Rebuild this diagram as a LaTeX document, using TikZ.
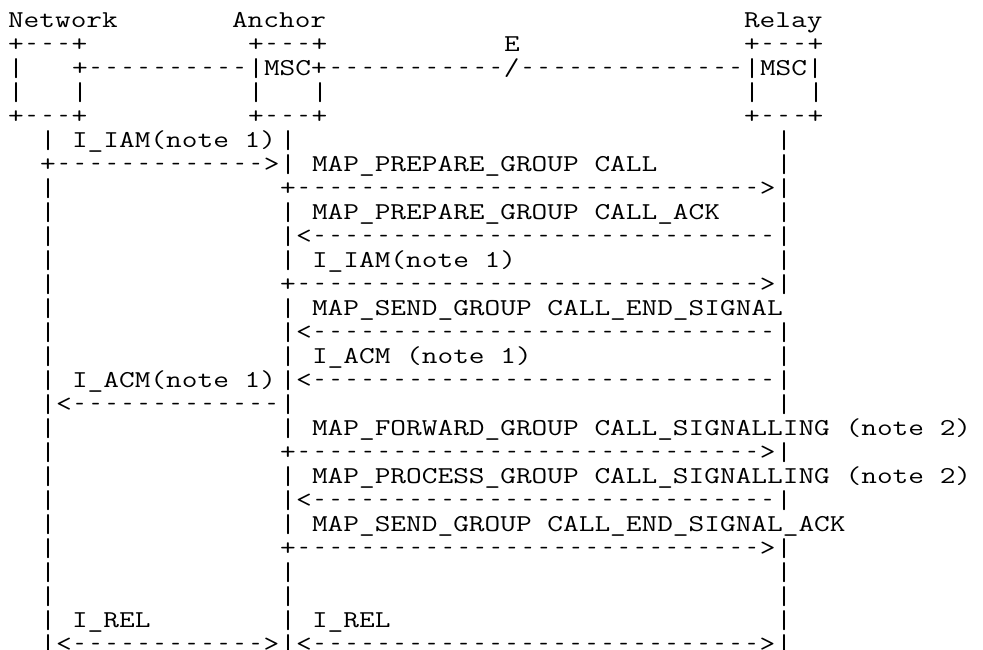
\documentclass[tikz,border=0pt]{standalone}
\usepackage{graphicx}
\newcommand\Dash{\makebox[0.525em]{\scalebox{0.55}[1]{-}}}
\newcommand\D[1]{\foreach\k in {1,...,#1}{\Dash}}
\newcommand\B{\raisebox{-4pt}{\resizebox*{0.525em}{20pt}{\raisebox{\depth}{|}}}}
\newcommand\sx[1]{\scalebox{1.2593}[1]{#1}}
\tikzset{ch/.style={anchor=base west, inner sep=0pt, outer sep=0pt,
  font=\ttfamily\fontsize{24.2}{24}\selectfont\frenchspacing}}
\newcommand\T[4]{\node[ch] (#1) at ({8+16*(#2)},{-3-24*(#3)}) {\sx{#4}};}
\begin{document}
\begin{tikzpicture}[x=1pt,y=1pt]
\useasboundingbox (0,0) rectangle (983,-649);
% headings
\T{net}{0}{1}{Network}
\T{anc}{14}{1}{Anchor}
\T{rel}{46}{1}{Relay}
% boxes
\T{nb2}{0}{2}{+\D{3}+}
\T{ab2}{15}{2}{+\D{3}+}
\T{e}{31}{2}{E}
\T{rb2}{46}{2}{+\D{3}+}
\T{nb3}{0}{3}{\B}
\T{lnk1}{4}{3}{+\D{10}}
\T{amsc}{15}{3}{\B MSC+}
\T{lnk2}{20}{3}{\D{11}/\D{14}}
\T{rmsc}{46}{3}{\B MSC\B}
\T{nb4l}{0}{4}{\B}
\T{nb4r}{4}{4}{\B}
\T{ab4l}{15}{4}{\B}
\T{ab4r}{19}{4}{\B}
\T{rb4l}{46}{4}{\B}
\T{rb4r}{50}{4}{\B}
\T{nb5}{0}{5}{+\D{3}+}
\T{ab5}{15}{5}{+\D{3}+}
\T{rb5}{46}{5}{+\D{3}+}
% lifelines
\T{pa7}{2}{7}{+}
\foreach \r in {6,8,9,10,11,12,13,14,15,16,17,18,19,20,21,22,23,24,25,26,27}{\T{la\r}{2}{\r}{\B}}
\foreach \r in {6,7,9,10,11,13,14,15,16,17,18,20,21,22,24,25,26,27}{\T{lb\r}{17}{\r}{\B}}
\foreach \r in {8,12,19,23}{\T{pb\r}{17}{\r}{+}}
\foreach \r in {6,7,8,9,10,11,12,14,15,16,17,19,21,23,24,25,26,27}{\T{lc\r}{48}{\r}{\B}}
% messages
\T{m6}{4}{6}{I\_IAM(note 1)}
\T{a7}{3}{7}{\D{13}>}
\T{m7}{19}{7}{MAP\_PREPARE\_GROUP CALL}
\T{a8}{18}{8}{\D{29}>}
\T{m9}{19}{9}{MAP\_PREPARE\_GROUP CALL\_ACK}
\T{a10}{18}{10}{<\D{29}}
\T{m11}{19}{11}{I\_IAM(note 1)}
\T{a12}{18}{12}{\D{29}>}
\T{m13}{19}{13}{MAP\_SEND\_GROUP CALL\_END\_SIGNAL}
\T{a14}{18}{14}{<\D{29}}
\T{m15}{19}{15}{I\_ACM (note 1)}
\T{m16}{4}{16}{I\_ACM(note 1)}
\T{a16}{18}{16}{<\D{29}}
\T{a17}{3}{17}{<\D{13}}
\T{m18}{19}{18}{MAP\_FORWARD\_GROUP CALL\_SIGNALLING (note 2)}
\T{a19}{18}{19}{\D{29}>}
\T{m20}{19}{20}{MAP\_PROCESS\_GROUP CALL\_SIGNALLING (note 2)}
\T{a21}{18}{21}{<\D{29}}
\T{m22}{19}{22}{MAP\_SEND\_GROUP CALL\_END\_SIGNAL\_ACK}
\T{a23}{18}{23}{\D{29}>}
\T{m26a}{4}{26}{I\_REL}
\T{m26b}{19}{26}{I\_REL}
\T{a27a}{3}{27}{<\D{12}>}
\T{a27b}{18}{27}{<\D{28}>}
\end{tikzpicture}
\end{document}
